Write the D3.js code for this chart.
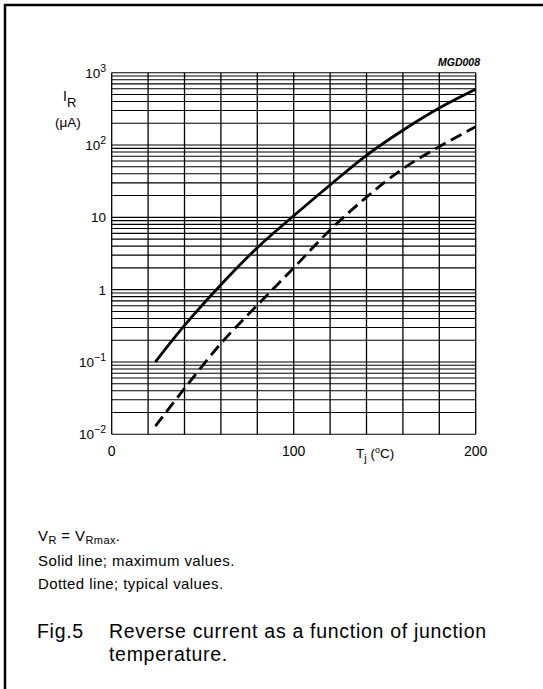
<!DOCTYPE html>
<html>
<head>
<meta charset="utf-8">
<script src="https://cdn.jsdelivr.net/npm/d3@7"></script>
<style>
  body { margin: 0; background: #fff; }
  svg { font-family: "Liberation Sans", Arial, sans-serif; }
</style>
</head>
<body>
<div id="chart"></div>
<script>
// junction temperature (°C) where the curves were read
const tempMax = [24, 40, 60, 80, 100, 120, 140, 160, 180, 200];
const currentMax = [0.1, 0.32, 1.17, 3.8, 10.5, 28, 72, 160, 325, 590];
const tempTyp = [24, 40, 60, 80, 100, 120, 140, 160, 180, 200];
const currentTyp = [0.013, 0.043, 0.18, 0.61, 2.0, 6.7, 19, 47, 95, 179];
const xTicks = [0, 100, 200];
const yDecades = [-2, -1, 0, 1, 2, 3];

const width = 543, height = 689;
const plot = { left: 111.7, right: 475.7, top: 72.7, bottom: 434.3 };

const svg = d3.select('#chart').append('svg')
  .attr('width', width)
  .attr('height', height);

// outer frame (top + left only, like the scan)
svg.append('path')
  .attr('d', `M5,${height} L5,5 L${width},5`)
  .attr('fill', 'none')
  .attr('stroke', '#000')
  .attr('stroke-width', 2.5);

const x = d3.scaleLinear().domain([0, 200]).range([plot.left, plot.right]);
const y = d3.scaleLog().domain([0.01, 1000]).range([plot.bottom, plot.top]);

const grid = svg.append('g').attr('stroke', '#000').attr('fill', 'none');

// horizontal grid: 1..9 per decade
const hLines = [];
for (let e = -2; e < 3; e++) {
  for (let m = 1; m <= 9; m++) hLines.push(m * Math.pow(10, e));
}
hLines.push(1000);
grid.selectAll('line.h')
  .data(hLines)
  .join('line')
  .attr('class', 'h')
  .attr('x1', plot.left).attr('x2', plot.right)
  .attr('y1', d => y(d)).attr('y2', d => y(d))
  .attr('stroke-width', 1.1);

// vertical grid every 20 °C
grid.selectAll('line.v')
  .data(d3.range(0, 201, 20))
  .join('line')
  .attr('class', 'v')
  .attr('x1', d => x(d)).attr('x2', d => x(d))
  .attr('y1', plot.top).attr('y2', plot.bottom)
  .attr('stroke-width', 1.3);

// y tick labels
const yLab = svg.append('g').attr('font-size', 13.5).attr('text-anchor', 'end');
yDecades.forEach(e => {
  const t = yLab.append('text')
    .attr('x', 106)
    .attr('y', y(Math.pow(10, e)) + 5);
  if (e === 0) t.text('1');
  else if (e === 1) t.text('10');
  else {
    t.append('tspan').text('10');
    t.append('tspan').attr('font-size', 10.5).attr('dy', -6).text(e < 0 ? '\u2212' + (-e) : e);
  }
});

// x tick labels
svg.append('g').attr('font-size', 14).attr('text-anchor', 'middle')
  .selectAll('text')
  .data(xTicks)
  .join('text')
  .attr('x', d => x(d))
  .attr('y', 456)
  .text(d => d);

// axis titles
const yt = svg.append('text').attr('x', 63).attr('y', 101).attr('font-size', 14);
yt.append('tspan').text('I');
yt.append('tspan').attr('font-size', 13).attr('dy', 6).text('R');
svg.append('text').attr('x', 55).attr('y', 127).attr('font-size', 13.5).text('(\u03bcA)');

const xt = svg.append('text').attr('x', 356).attr('y', 458).attr('font-size', 13.5);
xt.append('tspan').text('T');
xt.append('tspan').attr('font-size', 11).attr('dy', 4).text('j');
xt.append('tspan').attr('dy', -4).text(' (');
xt.append('tspan').attr('font-size', 9).attr('dy', -5).text('o');
xt.append('tspan').attr('dy', 5).text('C)');

svg.append('text')
  .attr('x', 480).attr('y', 66)
  .attr('text-anchor', 'end')
  .attr('font-size', 10.5)
  .attr('font-weight', 'bold')
  .attr('font-style', 'italic')
  .text('MGD008');

// curves
const line = d3.line()
  .x(d => x(d[0]))
  .y(d => y(d[1]))
  .curve(d3.curveCatmullRom);

svg.append('path')
  .datum(tempMax.map((t, i) => [t, currentMax[i]]))
  .attr('d', line)
  .attr('fill', 'none')
  .attr('stroke', '#000')
  .attr('stroke-width', 2.8);

svg.append('path')
  .datum(tempTyp.map((t, i) => [t, currentTyp[i]]))
  .attr('d', line)
  .attr('fill', 'none')
  .attr('stroke', '#000')
  .attr('stroke-width', 2.8)
  .attr('stroke-dasharray', '12,6');

// notes
const notes = svg.append('g').attr('font-size', 15).attr('letter-spacing', 0.4);
const n1 = notes.append('text').attr('x', 38).attr('y', 541);
n1.append('tspan').text('V');
n1.append('tspan').attr('font-size', 11).attr('dy', 3).text('R');
n1.append('tspan').attr('dy', -3).text(' = V');
n1.append('tspan').attr('font-size', 11).attr('dy', 3).text('Rmax');
n1.append('tspan').attr('dy', -3).text('.');
notes.append('text').attr('x', 38).attr('y', 566).text('Solid line; maximum values.');
notes.append('text').attr('x', 38).attr('y', 589).text('Dotted line; typical values.');

// caption
const cap = svg.append('g').attr('font-size', 19.5).attr('letter-spacing', 0.7);
cap.append('text').attr('x', 37).attr('y', 638).text('Fig.5');
cap.append('text').attr('x', 109).attr('y', 638).text('Reverse current as a function of junction');
cap.append('text').attr('x', 109).attr('y', 661).text('temperature.');
</script>
</body>
</html>
